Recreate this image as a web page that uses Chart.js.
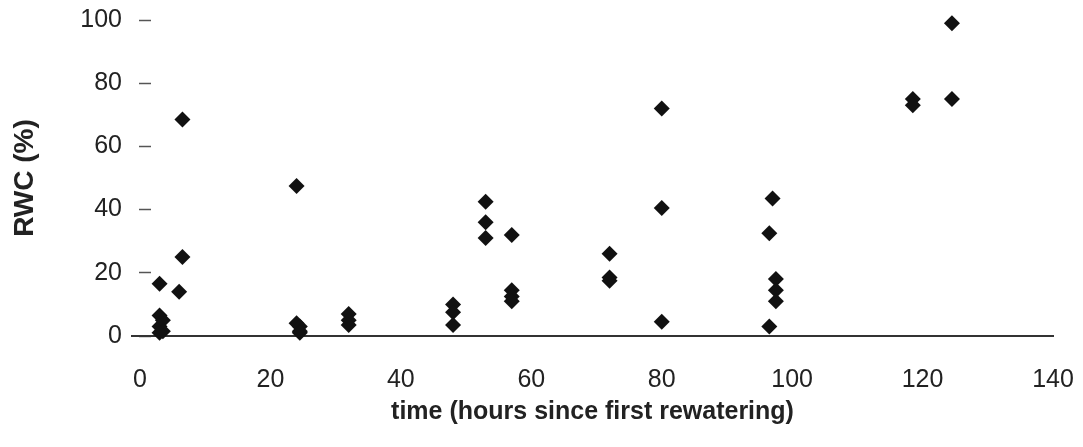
<!DOCTYPE html>
<html>
<head>
<meta charset="utf-8">
<title>RWC after rewatering</title>
<script src="https://cdn.jsdelivr.net/npm/chart.js@4/dist/chart.umd.min.js"></script>
<style>
  html, body { margin: 0; padding: 0; background: #ffffff; }
  #wrap { position: relative; width: 1083px; height: 447px; }
</style>
</head>
<body>
<div id="wrap"><canvas id="chart"></canvas></div>
<script>
// Datos (horas desde el primer riego, RWC en %)
const hours = [
  3, 6.5, 6.5, 6, 3, 3.5, 3, 3.5, 3,
  24, 24, 24.5, 24.5, 24.5,
  32, 32, 32,
  48, 48, 48,
  53, 53, 53,
  57, 57, 57, 57,
  72, 72, 72,
  80, 80, 80,
  97, 96.5, 97.5, 97.5, 97.5, 96.5,
  118.5, 118.5,
  124.5, 124.5
];
const rwc = [
  16.5, 68.5, 25, 14, 6.5, 5, 3, 1.5, 1,
  47.5, 4, 3, 1.5, 1,
  7, 5, 3.5,
  10, 7.5, 3.5,
  42.5, 36, 31,
  32, 14.5, 12.5, 11,
  26, 18.5, 17.5,
  72, 40.5, 4.5,
  43.5, 32.5, 18, 14.5, 11, 3,
  75, 73,
  99, 75
];
const xTicks = [0, 20, 40, 60, 80, 100, 120, 140];
const yTicks = [0, 20, 40, 60, 80, 100];

const points = hours.map((h, i) => ({ x: h, y: rwc[i] }));

const tickFont = { family: 'Liberation Sans, Arial, sans-serif', size: 25 };
const xTitleFont = { family: 'Liberation Sans, Arial, sans-serif', size: 25, weight: 'bold' };
const yTitleFont = { family: 'Liberation Sans, Arial, sans-serif', size: 28, weight: 'bold' };

new Chart(document.getElementById('chart'), {
  type: 'scatter',
  data: {
    datasets: [{
      data: points,
      pointStyle: 'rectRot',
      pointRadius: 8,
      pointBackgroundColor: '#111111',
      pointBorderWidth: 0,
      clip: false
    }]
  },
  options: {
    responsive: true,
    maintainAspectRatio: false,
    animation: false,
    events: [],
    layout: { autoPadding: false, padding: { top: 20, right: 30, left: 0, bottom: 0 } },
    plugins: { legend: { display: false }, tooltip: { enabled: false } },
    scales: {
      x: {
        type: 'linear',
        min: -1.23,
        max: 140,
        afterBuildTicks: (scale) => { scale.ticks = xTicks.map(v => ({ value: v })); },
        afterFit: (scale) => {
          scale.height = 111;
          scale.paddingLeft = 0;
          scale.paddingRight = 0;
        },
        grid: { display: false },
        border: { display: true, color: '#333333', width: 2 },
        ticks: { font: tickFont, color: '#222222', padding: 21, maxRotation: 0 },
        title: {
          display: true,
          text: 'time (hours since first rewatering)',
          font: xTitleFont,
          color: '#222222',
          padding: { top: 0, bottom: 20 }
        }
      },
      y: {
        type: 'linear',
        min: 0,
        max: 100,
        afterBuildTicks: (scale) => { scale.ticks = yTicks.map(v => ({ value: v })); },
        afterFit: (scale) => {
          scale.width = 132;
          scale.paddingTop = 0;
          scale.paddingBottom = 0;
        },
        border: { display: false },
        grid: {
          drawOnChartArea: false,
          drawTicks: true,
          tickLength: -19,
          tickColor: '#555555',
          tickWidth: 1.5,
          tickBorderDash: [12, 40]
        },
        ticks: { font: tickFont, color: '#222222', padding: 29 },
        title: {
          display: true,
          text: 'RWC (%)',
          font: yTitleFont,
          color: '#222222',
          padding: { top: 8.2, bottom: 0 }
        }
      }
    }
  }
});
</script>
</body>
</html>
